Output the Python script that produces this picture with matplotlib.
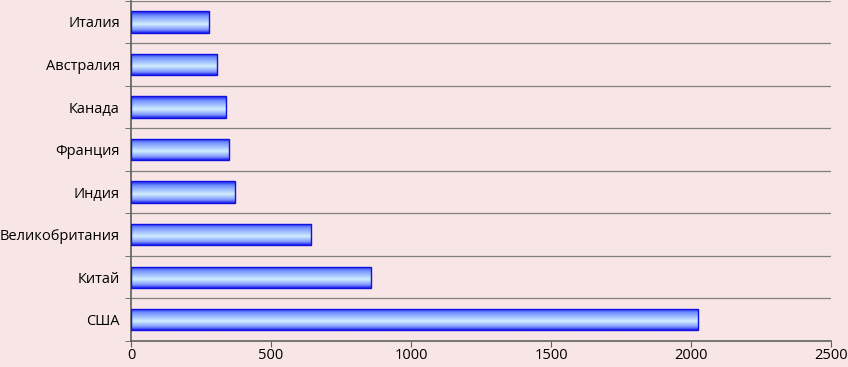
import matplotlib
matplotlib.use("Agg")
import matplotlib.pyplot as plt
import numpy as np
from matplotlib.colors import LinearSegmentedColormap

countries = ["США", "Китай", "Великобритания", "Индия", "Франция", "Канада", "Австралия", "Италия"]
values = [2025, 857, 643, 371, 350, 339, 307, 279]
xticks = [0, 500, 1000, 1500, 2000, 2500]

plt.rcParams['font.family'] = ['Open Sans', 'Noto Sans', 'DejaVu Sans']

bg = "#F8E6E6"
fig = plt.figure(figsize=(8.48, 3.67), dpi=100, facecolor=bg)
ax = fig.add_axes([0.1545, 0.071, 0.8255, 0.927], facecolor=bg)

y = np.arange(len(countries))
bars = ax.barh(y, values, height=0.5, color="none", edgecolor="#1010E0", linewidth=1.0, zorder=3)

cmap = LinearSegmentedColormap.from_list("g", [(0.0, "#1515EE"), (0.2, "#7090FF"), (0.6, "#D2EEFF"), (0.85, "#8098FF"), (1.0, "#1A1AEE")])
grad = np.linspace(1, 0, 256).reshape(-1, 1)
for p in bars:
    x0, y0 = p.get_x(), p.get_y()
    w, h = p.get_width(), p.get_height()
    im = ax.imshow(grad, cmap=cmap, aspect="auto", extent=[x0, x0 + w, y0, y0 + h],
                   origin="lower", zorder=2, interpolation="bilinear")
    im.set_clip_path(p)

ax.set_xlim(0, 2500)
ax.set_ylim(-0.5, len(countries) - 0.5)
ax.set_xticks(xticks)
ax.set_xticklabels([str(t) for t in xticks], fontsize=10.5)
ax.set_yticks(y)
ax.set_yticklabels(countries, fontsize=10.5)
ax.set_yticks(np.arange(len(countries) + 1) - 0.5, minor=True)
ax.tick_params(axis="y", which="major", length=0, pad=8)
ax.tick_params(axis="y", which="minor", length=4, color="#606060")
ax.tick_params(axis="x", length=4, color="#606060", pad=1)
for yy in np.arange(1, len(countries) + 1) - 0.5:
    ax.axhline(yy, color="#808080", linewidth=0.9, zorder=1)
for s in ["top", "right"]:
    ax.spines[s].set_visible(False)
for s in ["left", "bottom"]:
    ax.spines[s].set_color("#606060")
    ax.spines[s].set_linewidth(1.2)

fig.savefig("out.png", dpi=100, facecolor=bg)
